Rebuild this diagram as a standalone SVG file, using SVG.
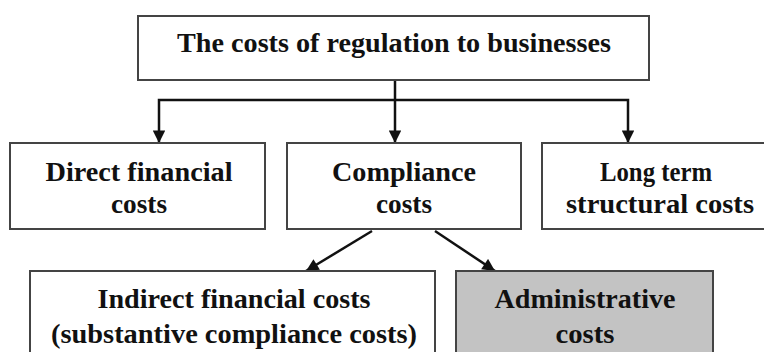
<svg xmlns="http://www.w3.org/2000/svg" width="764" height="352" viewBox="0 0 764 352">
<defs>
<style>
.box{fill:#fff;stroke:#444;stroke-width:2}
.gray{fill:#c3c3c3}
.t{font-family:"Liberation Serif","Times New Roman",serif;font-weight:bold;font-size:28px;fill:#111;text-anchor:middle}
.c{fill:none;stroke:#111;stroke-width:2.5}
</style>
<marker id="ah" viewBox="0 0 10 10" refX="10" refY="5" markerWidth="5.5" markerHeight="5" markerUnits="strokeWidth" orient="auto">
<path d="M0,0 L10,5 L0,10 z" fill="#111"/>
</marker>
</defs>
<rect width="764" height="352" fill="#fff"/>
<g id="connectors">
<path class="c" d="M395,80 V143" marker-end="url(#ah)"/>
<path class="c" d="M395,100 H159 V143" marker-end="url(#ah)"/>
<path class="c" d="M395,100 H628 V143" marker-end="url(#ah)"/>
<path class="c" d="M372,231 L306,271" marker-end="url(#ah)"/>
<path class="c" d="M435,231 L495,271" marker-end="url(#ah)"/>
</g>
<g id="root">
<rect class="box" x="138" y="16" width="511" height="64"/>
<text class="t" x="394" y="52" textLength="434" lengthAdjust="spacingAndGlyphs">The costs of regulation to businesses</text>
</g>
<g id="direct">
<rect class="box" x="10" y="143" width="255" height="86"/>
<text class="t" x="139" y="181" textLength="187" lengthAdjust="spacingAndGlyphs">Direct financial</text>
<text class="t" x="139" y="213" textLength="56" lengthAdjust="spacingAndGlyphs">costs</text>
</g>
<g id="compliance">
<rect class="box" x="287" y="143" width="234" height="86"/>
<text class="t" x="404" y="181" textLength="144" lengthAdjust="spacingAndGlyphs">Compliance</text>
<text class="t" x="404" y="213" textLength="56" lengthAdjust="spacingAndGlyphs">costs</text>
</g>
<g id="longterm">
<rect class="box" x="542" y="143" width="232" height="86"/>
<text class="t" x="656" y="181" textLength="112" lengthAdjust="spacingAndGlyphs">Long term</text>
<text class="t" x="660" y="213" textLength="188" lengthAdjust="spacingAndGlyphs">structural costs</text>
</g>
<g id="indirect">
<rect class="box" x="30" y="271" width="405" height="90"/>
<text class="t" x="234" y="308" textLength="273" lengthAdjust="spacingAndGlyphs">Indirect financial costs</text>
<text class="t" x="234" y="343" textLength="366" lengthAdjust="spacingAndGlyphs">(substantive compliance costs)</text>
</g>
<g id="administrative">
<rect class="box gray" x="456" y="271" width="257" height="90"/>
<text class="t" x="585" y="308" textLength="181" lengthAdjust="spacingAndGlyphs">Administrative</text>
<text class="t" x="585" y="343" textLength="59" lengthAdjust="spacingAndGlyphs">costs</text>
</g>
</svg>
